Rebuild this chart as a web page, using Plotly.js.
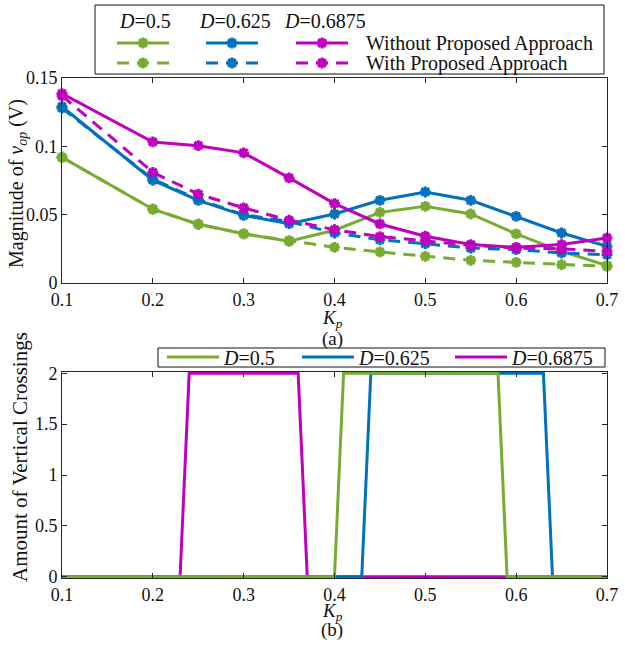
<!DOCTYPE html>
<html>
<head>
<meta charset="utf-8">
<script src="https://cdn.plot.ly/plotly-3.0.1.min.js"></script>
<style>html,body{margin:0;padding:0;background:#fff;} #chart{width:625px;height:647px;}</style>
</head>
<body>
<div id="chart"></div>
<script>
// ---- Data (a): magnitude of v_op vs Kp ----
const kp = [0.1, 0.2, 0.25, 0.3, 0.35, 0.4, 0.45, 0.5, 0.55, 0.6, 0.65, 0.7];
const without_05    = [0.092, 0.054, 0.043, 0.036, 0.0305, 0.0386, 0.0517, 0.0561, 0.0505, 0.0359, 0.0232, 0.0127];
const without_0625  = [0.129, 0.0752, 0.0605, 0.0495, 0.0434, 0.0505, 0.0605, 0.0666, 0.0605, 0.0488, 0.0366, 0.0268];
const without_06875 = [0.1386, 0.1032, 0.1005, 0.0952, 0.0769, 0.0581, 0.0432, 0.0342, 0.0281, 0.0261, 0.0281, 0.033];
const with_05       = [0.092, 0.054, 0.043, 0.036, 0.031, 0.0261, 0.0227, 0.0195, 0.0166, 0.0151, 0.0134, 0.0122];
const with_0625     = [0.128, 0.076, 0.061, 0.050, 0.045, 0.0366, 0.0317, 0.0288, 0.0256, 0.0244, 0.022, 0.0207];
const with_06875    = [0.137, 0.081, 0.065, 0.055, 0.0459, 0.039, 0.034, 0.031, 0.0276, 0.0256, 0.025, 0.0232];

// ---- Data (b): amount of vertical crossings vs Kp ----
const crossKp_05    = [0.10, 0.40, 0.41, 0.58, 0.59, 0.70];
const cross_05      = [0, 0, 2, 2, 0, 0];
const crossKp_0625  = [0.10, 0.43, 0.44, 0.63, 0.64, 0.70];
const cross_0625    = [0, 0, 2, 2, 0, 0];
const crossKp_06875 = [0.10, 0.23, 0.24, 0.36, 0.37, 0.70];
const cross_06875   = [0, 0, 2, 2, 0, 0];

const dLabels = ['<i>D</i>=0.5', '<i>D</i>=0.625', '<i>D</i>=0.6875'];
const approachLabels = ['Without Proposed Approach', 'With Proposed Approach'];
const xTicks = [0.1, 0.2, 0.3, 0.4, 0.5, 0.6, 0.7];
const yTicksA = [0, 0.05, 0.1, 0.15];
const yTickTextA = ['0', '0.05', '0.1', '0.15'];
const yTicksB = [0, 0.5, 1, 1.5, 2];

const GREEN = '#77AC30', BLUE = '#0072BD', MAG = '#BF00BF';
const FONT = 'Liberation Serif';
const AX = '#262626';
const TXT = '#111111';

function magTrace(y, color, dashed, legendId) {
  return {
    x: kp, y: y, xaxis: 'x', yaxis: 'y', type: 'scatter', mode: 'lines+markers',
    name: ' ', legend: legendId, cliponaxis: false,
    line: {color: color, width: 3, dash: dashed ? '12px,8px' : 'solid'},
    marker: {symbol: 'asterisk-open', size: 9, color: color, line: {color: color, width: 3}}
  };
}
function crossTrace(x, y, color, name, legendId) {
  return {
    x: x, y: y, xaxis: 'x2', yaxis: 'y2', type: 'scatter', mode: 'lines',
    name: name, legend: legendId,
    line: {color: color, width: 3}
  };
}

const traces = [
  magTrace(without_05, GREEN, false, 'legend'),
  magTrace(without_0625, BLUE, false, 'legend2'),
  magTrace(without_06875, MAG, false, 'legend3'),
  magTrace(with_05, GREEN, true, 'legend4'),
  magTrace(with_0625, BLUE, true, 'legend5'),
  magTrace(with_06875, MAG, true, 'legend6'),
  crossTrace(crossKp_06875, cross_06875, MAG, dLabels[2], 'legend9'),
  crossTrace(crossKp_0625, cross_0625, BLUE, dLabels[1], 'legend8'),
  crossTrace(crossKp_05, cross_05, GREEN, dLabels[0], 'legend7')
];

const H = 647, L = 62, W = 545;
const px = v => (v - L) / W;
const py = v => 1 - v / H;
const LOFF = 6; // legend origin to line start

const tickFont = {family: FONT, size: 18, color: TXT};
const axBase = {
  showline: true, mirror: 'ticks', linecolor: AX, linewidth: 1,
  ticks: 'inside', ticklen: 5, tickcolor: AX, tickwidth: 1,
  showgrid: false, zeroline: false
};

function leg(xLine, yMid) {
  return {
    orientation: 'h', bgcolor: 'rgba(0,0,0,0)', borderwidth: 0,
    font: {family: FONT, size: 20, color: TXT},
    itemwidth: 52, xanchor: 'left', yanchor: 'middle',
    x: px(xLine - LOFF), y: py(yMid),
    itemclick: false, itemdoubleclick: false
  };
}

function ann(text, x, y, opts) {
  return Object.assign({text: text, x: px(x), y: py(y), xref: 'paper', yref: 'paper',
    xanchor: 'left', yanchor: 'middle', showarrow: false,
    font: {family: FONT, size: 20, color: TXT}}, opts || {});
}

function xAx(anchor) {
  return Object.assign({}, axBase, {domain: [0, 1], anchor: anchor, range: [0.1, 0.7],
    tickvals: xTicks, ticktext: xTicks.map(String), tickfont: Object.assign({}, tickFont)});
}

const layout = {
  width: 625, height: 647,
  font: {family: FONT, size: 18, color: TXT},
  margin: {l: L, r: 625 - L - W, t: 0, b: 0},
  paper_bgcolor: '#fff', plot_bgcolor: '#fff',
  showlegend: true,
  xaxis: xAx('y'),
  yaxis: Object.assign({}, axBase, {domain: [py(283), py(78)], anchor: 'x', range: [0, 0.15], tickvals: yTicksA, ticktext: yTickTextA, tickfont: Object.assign({}, tickFont)}),
  xaxis2: xAx('y2'),
  yaxis2: Object.assign({}, axBase, {domain: [py(578), py(372)], anchor: 'x2', range: [-0.012, 2.012], tickvals: yTicksB, ticktext: yTicksB.map(String), tickfont: Object.assign({}, tickFont)}),
  legend: leg(118, 43), legend2: leg(207, 43), legend3: leg(297, 43),
  legend4: leg(118, 63), legend5: leg(207, 63), legend6: leg(297, 63),
  legend7: leg(168, 357), legend8: leg(303, 357), legend9: leg(456, 357),
  shapes: [
    {type: 'rect', xref: 'paper', yref: 'paper', x0: px(95), x1: px(604), y0: py(74), y1: py(5), line: {color: TXT, width: 1}},
    {type: 'rect', xref: 'paper', yref: 'paper', x0: px(158), x1: px(605), y0: py(367), y1: py(348), line: {color: TXT, width: 1}}
  ],
  annotations: [
    ann(dLabels[0], 117, 21), ann(dLabels[1], 197, 21), ann(dLabels[2], 282, 21),
    ann(approachLabels[0], 364, 43), ann(approachLabels[1], 364, 63),
    ann('Magnitude of <i>v<sub>op</sub></i> (V)', 18, 184, {textangle: -90, xanchor: 'center'}),
    ann('Amount of Vertical Crossings', 20, 457, {textangle: -90, xanchor: 'center', font: {family: FONT, size: 21, color: TXT}}),
    ann('<i>K<sub>p</sub></i>', 332, 319, {xanchor: 'center', font: {family: FONT, size: 19, color: TXT}}),
    ann('(a)', 332, 339, {xanchor: 'center', font: {family: FONT, size: 19, color: TXT}}),
    ann('<i>K<sub>p</sub></i>', 332, 612, {xanchor: 'center', font: {family: FONT, size: 19, color: TXT}}),
    ann('(b)', 332, 630, {xanchor: 'center', font: {family: FONT, size: 19, color: TXT}})
  ]
};

Plotly.newPlot('chart', traces, layout, {staticPlot: true, displayModeBar: false});
</script>
</body>
</html>
